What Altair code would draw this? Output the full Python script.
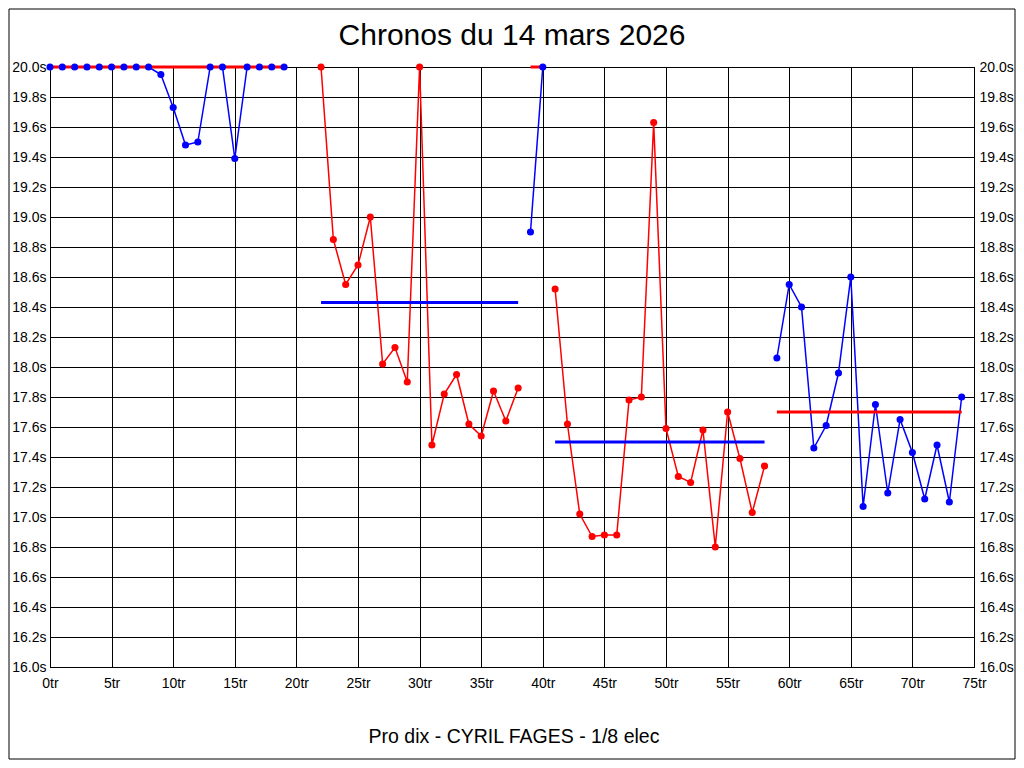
import altair as alt
import pandas as pd

# ---- data ----
seg1_laps = [0, 1, 2, 3, 4, 5, 6, 7, 8, 9, 10, 11, 12, 13, 14, 15, 16, 17, 18, 19]
seg1_vals = [20.0, 20.0, 20.0, 20.0, 20.0, 20.0, 20.0, 20.0, 20.0, 19.95,
             19.73, 19.48, 19.50, 20.0, 20.0, 19.39, 20.0, 20.0, 20.0, 20.0]
seg2_laps = [22, 23, 24, 25, 26, 27, 28, 29, 30, 31, 32, 33, 34, 35, 36, 37, 38]
seg2_vals = [20.0, 18.85, 18.55, 18.68, 19.0, 18.02, 18.13, 17.90, 20.0,
             17.48, 17.82, 17.95, 17.62, 17.54, 17.84, 17.64, 17.86]
seg3_laps = [39, 40]
seg3_vals = [18.90, 20.0]
seg4_laps = [41, 42, 43, 44, 45, 46, 47, 48, 49, 50, 51, 52, 53, 54, 55, 56, 57, 58]
seg4_vals = [18.52, 17.62, 17.02, 16.87, 16.88, 16.88, 17.78, 17.80, 19.63,
             17.59, 17.27, 17.23, 17.58, 16.80, 17.70, 17.39, 17.03, 17.34]
seg5_laps = [59, 60, 61, 62, 63, 64, 65, 66, 67, 68, 69, 70, 71, 72, 73, 74]
seg5_vals = [18.06, 18.55, 18.40, 17.46, 17.61, 17.96, 18.60, 17.07,
             17.75, 17.16, 17.65, 17.43, 17.12, 17.48, 17.10, 17.80]
seg_colors = ["blue", "red", "blue", "red", "blue"]

avg_start = [0, 22, 39, 41, 59]
avg_end = [19, 38, 40, 58, 74]
avg_vals = [20.0, 18.43, 20.0, 17.50, 17.70]
avg_colors = ["red", "blue", "red", "blue", "red"]

x_ticks = [0, 5, 10, 15, 20, 25, 30, 35, 40, 45, 50, 55, 60, 65, 70, 75]
y_ticks = [16.0, 16.2, 16.4, 16.6, 16.8, 17.0, 17.2, 17.4, 17.6, 17.8,
           18.0, 18.2, 18.4, 18.6, 18.8, 19.0, 19.2, 19.4, 19.6, 19.8, 20.0]

title_text = "Chronos du 14 mars 2026"
caption_text = "Pro dix - CYRIL FAGES - 1/8 elec"

# ---- build tables ----
rows = []
segs = [(seg1_laps, seg1_vals), (seg2_laps, seg2_vals), (seg3_laps, seg3_vals),
        (seg4_laps, seg4_vals), (seg5_laps, seg5_vals)]
for i, (laps, vals) in enumerate(segs):
    for l, v in zip(laps, vals):
        rows.append({"lap": l, "time": v, "seg": i, "col": seg_colors[i]})
df = pd.DataFrame(rows)
avg = pd.DataFrame({"start": avg_start, "end": avg_end, "val": avg_vals,
                    "col": avg_colors})

FONT = "Liberation Sans"
color_scale = alt.Scale(domain=["blue", "red"], range=["#0000ff", "#ff0000"])
x_scale = alt.Scale(domain=[0, 75], nice=False, zero=False)
y_scale = alt.Scale(domain=[16, 20], nice=False, zero=False)

x_axis = alt.Axis(values=x_ticks, labelExpr="datum.value + 'tr'", grid=True,
                  gridColor="black", gridOpacity=1, gridWidth=1,
                  domainColor="black", ticks=False, labelPadding=9,
                  labelFont=FONT, labelFontSize=14, labelColor="black",
                  labelFlush=False, labelOverlap=False, title=None)
y_axis_left = alt.Axis(values=y_ticks, labelExpr="format(datum.value, '.1f') + 's'",
                       grid=True, gridColor="black", gridOpacity=1, gridWidth=1,
                       domainColor="black", ticks=False, labelPadding=4,
                       labelFont=FONT, labelFontSize=14, labelColor="black",
                       labelFlush=False, labelOverlap=False, title=None,
                       orient="left")
y_axis_right = alt.Axis(values=y_ticks, labelExpr="format(datum.value, '.1f') + 's'",
                        grid=False, domainColor="black", ticks=False,
                        labelPadding=5, labelFont=FONT, labelFontSize=14,
                        labelColor="black", labelFlush=False,
                        labelOverlap=False, title=None, orient="right")

base = alt.Chart(df)

lines = base.mark_line(strokeWidth=1.5).encode(
    x=alt.X("lap:Q", scale=x_scale, axis=x_axis),
    y=alt.Y("time:Q", scale=y_scale, axis=y_axis_left),
    color=alt.Color("col:N", scale=color_scale, legend=None),
    detail="seg:N",
    order="lap:Q",
)

rules = alt.Chart(avg).mark_rule(strokeWidth=3).encode(
    x=alt.X("start:Q", scale=x_scale),
    x2="end:Q",
    y=alt.Y("val:Q", scale=y_scale, axis=None),
    color=alt.Color("col:N", scale=color_scale, legend=None),
)

points = base.mark_circle(size=50, opacity=1).encode(
    x=alt.X("lap:Q", scale=x_scale),
    y=alt.Y("time:Q", scale=y_scale, axis=y_axis_right),
    color=alt.Color("col:N", scale=color_scale, legend=None),
)

one = pd.DataFrame({"t": [title_text], "c": [caption_text]})
title = alt.Chart(one).mark_text(font=FONT, fontSize=30, color="black",
                                 align="center", baseline="alphabetic").encode(
    x=alt.value(462), y=alt.value(-22), text="t:N")
caption = alt.Chart(one).mark_text(font=FONT, fontSize=19.5, color="black",
                                   align="center", baseline="alphabetic").encode(
    x=alt.value(464), y=alt.value(676), text="c:N")
frame = alt.Chart(one).mark_rect(fillOpacity=0, stroke="black",
                                 strokeWidth=1).encode(
    x=alt.value(-41), x2=alt.value(965), y=alt.value(-58), y2=alt.value(692))

chart = alt.layer(lines, rules, points, title, caption, frame).resolve_axis(
    y="independent"
).properties(
    width=924, height=600,
    autosize=alt.AutoSizeParams(type="none"),
    padding={"left": 42, "top": 59, "right": 42, "bottom": 93},
    background="white",
).configure_view(stroke="black", strokeWidth=1)

chart.save("out.html", embed_options={"renderer": "svg", "actions": False})
